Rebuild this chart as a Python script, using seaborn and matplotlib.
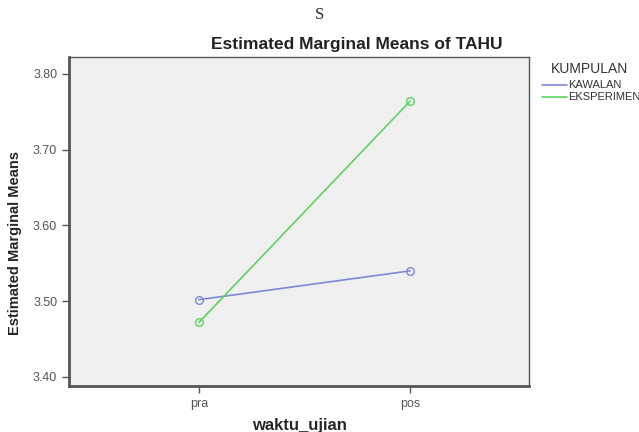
import pandas as pd
import matplotlib.pyplot as plt
import seaborn as sns

# ==================================================
# DATA
# ==================================================

waktu = ['pra', 'pos']
kumpulan = ['KAWALAN', 'EKSPERIMEN']
kawalan = [3.502, 3.540]
eksperimen = [3.472, 3.764]

df = pd.DataFrame({
    'waktu_ujian': waktu * 2,
    'KUMPULAN': [kumpulan[0]] * 2 + [kumpulan[1]] * 2,
    'TAHU': kawalan + eksperimen,
})

# ==================================================
# PLOT
# ==================================================

sns.set_style('white')
plt.rcParams['font.family'] = ['Liberation Sans', 'DejaVu Sans']

fig = plt.figure(figsize=(6.39, 4.32), dpi=100)
ax = fig.add_axes([69/639, 1 - 386/432, 460/639, 329/432])
ax.set_facecolor('#f0f0f0')

palette = {'KAWALAN': '#7f88d8', 'EKSPERIMEN': '#5ed35e'}

sns.lineplot(
    data=df, x='waktu_ujian', y='TAHU', hue='KUMPULAN',
    palette=palette, marker='o', markersize=5.5, markerfacecolor='none',
    markeredgewidth=1.0, linewidth=1.2, ax=ax, legend=False
)
for line in ax.lines:
    line.set_markeredgecolor(line.get_color())

ax.set_xlim(-0.616, 1.564)
ax.set_ylim(3.388, 3.8224)
ax.set_yticks([3.40, 3.50, 3.60, 3.70, 3.80])
ax.set_yticklabels(['3.40', '3.50', '3.60', '3.70', '3.80'])

for s in ax.spines.values():
    s.set_color('#555555')
    s.set_linewidth(1.0)
ax.spines['bottom'].set_linewidth(2.0)
ax.spines['left'].set_linewidth(2.0)

ax.tick_params(axis='both', direction='out', length=5, width=1,
               color='#555555', labelsize=9, labelcolor='#555555',
               bottom=True, left=True)

ax.set_xlabel('waktu_ujian', fontsize=12, fontweight='bold', labelpad=6)
ax.set_ylabel('')
fig.text(15/639, 1 - 243/432, 'Estimated Marginal Means', rotation=90,
         ha='center', va='center', fontsize=10.5, fontweight='bold')

fig.text(357/639, 1 - 45/432, 'Estimated Marginal Means of TAHU',
         ha='center', va='center', fontsize=12.5, fontweight='bold',
         color='#222222')
fig.text(320/639, 1 - 15/432, 'S', ha='center', va='center',
         fontsize=12, family=['Liberation Serif', 'DejaVu Serif'])

# legend
fig.text(551/639, 1 - 69/432, 'KUMPULAN', ha='left', va='center',
         fontsize=10, color='#333333')
for i, k in enumerate(kumpulan):
    yy = 1 - (85 + i * 12) / 432
    fig.add_artist(plt.Line2D([542/639, 567/639], [yy, yy],
                              color=palette[k], linewidth=1.2))
    fig.text(568/639, yy, k, ha='left', va='center', fontsize=8,
             color='#333333')

plt.savefig('out.png', dpi=100)
